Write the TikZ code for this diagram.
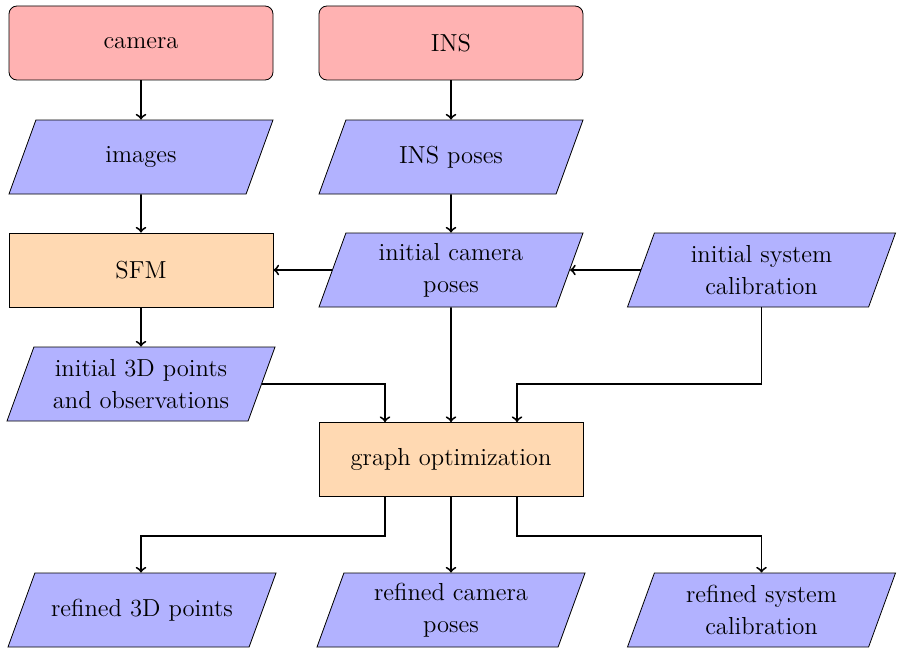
\documentclass[tikz,border=0pt]{standalone}
\usetikzlibrary{shapes.geometric}
% fixed-height text block so every data shape gets the same slant
\newcommand\dtext[1]{\parbox[c][30.3pt][c]{98pt}{\centering #1}}
\begin{document}
\begin{tikzpicture}[x=0.5pt,y=-0.5pt,
  font=\fontsize{12.3}{16}\selectfont,
  box/.style={draw, line width=0.4pt, minimum width=132pt, minimum height=37pt, align=center},
  device/.style={box, rectangle, rounded corners=4pt, fill=red!30},
  process/.style={box, rectangle, fill=orange!30},
  data/.style={box, trapezium, trapezium left angle=70, trapezium right angle=110,
    trapezium stretches body, fill=blue!30, inner xsep=2pt},
  wide/.style={minimum width=134pt},
  arr/.style={->, line width=0.95pt}]
\useasboundingbox (0,0) rectangle (898,647);

% sources
\node[device] (camera) at (141,43) {camera};
\node[device] (ins) at (451,43) {INS};

% raw data
\node[data] (images) at (141,157) {\dtext{images}};
\node[data] (insposes) at (451,157) {\dtext{INS poses}};

% initial estimates
\node[process] (sfm) at (141,270) {SFM};
\node[data] (icp) at (451,270) {\dtext{initial camera\\poses}};
\node[data, wide] (isc) at (761.5,270) {\dtext{initial system\\calibration}};
\node[data, wide] (ipts) at (141,384) {\dtext{initial 3D points\\and observations}};

% optimization
\node[process] (graph) at (451,459.5) {graph optimization};

% results
\node[data, wide] (rpts) at (142,610) {\dtext{refined 3D points}};
\node[data, wide] (rcp) at (451,610) {\dtext{refined camera\\poses}};
\node[data, wide] (rsc) at (761.5,610) {\dtext{refined system\\calibration}};

% connectors
\draw[arr] (camera) -- (images);
\draw[arr] (images) -- (sfm);
\draw[arr] (ins) -- (insposes);
\draw[arr] (insposes) -- (icp);
\draw[arr] (icp.west) -- (sfm.east);
\draw[arr] (isc.west) -- (icp.east);
\draw[arr] (sfm) -- (ipts);
\draw[arr] (ipts.east) -| ([xshift=-33pt]graph.north);
\draw[arr] (icp) -- (graph);
\draw[arr] (isc.south) -- ++(0,77) -| ([xshift=33pt]graph.north);
\draw[arr] ([xshift=-33pt]graph.south) -- ++(0,39) -| ([xshift=-0.5pt]rpts.north);
\draw[arr] (graph) -- (rcp);
\draw[arr] ([xshift=33pt]graph.south) -- ++(0,39) -| (rsc.north);
\end{tikzpicture}
\end{document}
